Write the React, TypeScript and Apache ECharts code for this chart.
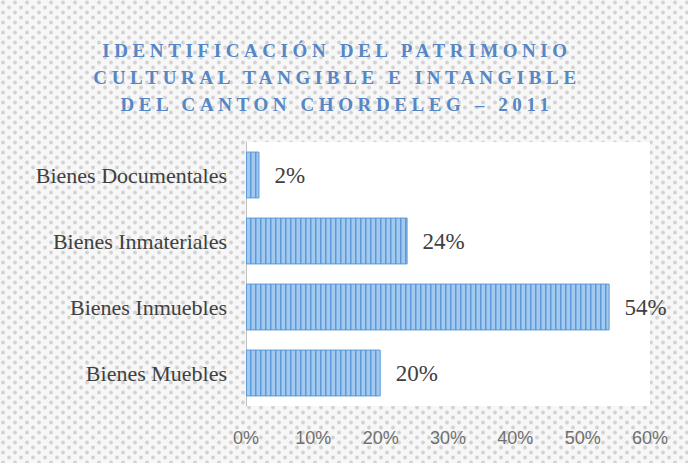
import React, { useEffect, useRef } from "react";
import * as echarts from "echarts";

const categories = ["Bienes Muebles", "Bienes Inmuebles", "Bienes Inmateriales", "Bienes Documentales"];
const values = [20, 54, 24, 2];
const xTicks = { min: 0, max: 60, interval: 10 };
const titleLines = [
  "IDENTIFICACIÓN DEL PATRIMONIO",
  "CULTURAL TANGIBLE E INTANGIBLE",
  "DEL CANTON CHORDELEG – 2011",
];

const TITLE_COLOR = "#5586c6";

const bgSvg =
  "data:image/svg+xml;utf8," +
  encodeURIComponent(
    '<svg xmlns="http://www.w3.org/2000/svg" width="12" height="10">' +
      '<rect width="12" height="10" fill="#f7f7f7"/>' +
      '<circle cx="3" cy="2.5" r="1.9" fill="#d2d2d2"/>' +
      '<circle cx="9" cy="7.5" r="1.9" fill="#d2d2d2"/>' +
      "</svg>"
  );

const barSvg =
  "data:image/svg+xml;utf8," +
  encodeURIComponent(
    '<svg xmlns="http://www.w3.org/2000/svg" width="5" height="10">' +
      '<rect width="5" height="10" fill="#a3c9ee"/>' +
      '<rect x="0" width="1.5" height="10" fill="#5b99d8"/>' +
      "</svg>"
  );

export default function App() {
  const ref = useRef<HTMLDivElement>(null);
  useEffect(() => {
    if (!ref.current) return;
    const chart = echarts.init(ref.current, null, { renderer: "svg" });
    chart.setOption({
      animation: false,
      graphic: [
        {
          type: "rect",
          z: -10,
          shape: { x: 0, y: 0, width: 688, height: 463 },
          style: { fill: { image: bgSvg, repeat: "repeat" } as any },
          silent: true,
        },
        {
          type: "text",
          x: 337,
          y: 37,
          z: 10,
          style: {
            text: titleLines.join("\n"),
            textAlign: "center",
            textVerticalAlign: "top",
            font: 'bold 19px "Liberation Serif", "Times New Roman", serif',
            lineHeight: 27,
            fill: TITLE_COLOR,
          },
        },
      ],
      grid: {
        left: 246,
        right: 38,
        top: 142,
        bottom: 57,
        show: true,
        backgroundColor: "#ffffff",
        borderWidth: 0,
      },
      xAxis: {
        type: "value",
        min: xTicks.min,
        max: xTicks.max,
        interval: xTicks.interval,
        axisLine: { show: false },
        axisTick: { show: false },
        splitLine: { show: false },
        axisLabel: {
          formatter: (v: number) => `${v}%`,
          fontFamily: '"Liberation Sans", Arial, sans-serif',
          fontSize: 18,
          color: "#707070",
          margin: 23,
        },
      },
      yAxis: {
        type: "category",
        data: categories,
        axisLine: { show: true, lineStyle: { color: "#bfbfbf", width: 1 } },
        axisTick: { show: false },
        splitLine: { show: false },
        axisLabel: {
          fontFamily: '"Liberation Serif", "Times New Roman", serif',
          fontSize: 22,
          color: "#404040",
          margin: 19,
        },
      },
      series: [
        {
          type: "bar",
          data: values,
          barCategoryGap: "29%",
          itemStyle: {
            color: { image: barSvg, repeat: "repeat" } as any,
            borderColor: "#5b99d8",
            borderWidth: 1,
          },
          label: {
            show: true,
            position: "right",
            distance: 15,
            formatter: (p: any) => `${p.value}%`,
            fontFamily: '"Liberation Serif", "Times New Roman", serif',
            fontSize: 23,
            color: "#404040",
          },
        },
      ],
    });
    return () => chart.dispose();
  }, []);
  return (
    <>
      <style>{`text[fill="${TITLE_COLOR}"]{letter-spacing:4.6px;}`}</style>
      <div
        ref={ref}
        style={{ position: "absolute", left: 0, top: 0, width: 688, height: 463 }}
      />
    </>
  );
}
